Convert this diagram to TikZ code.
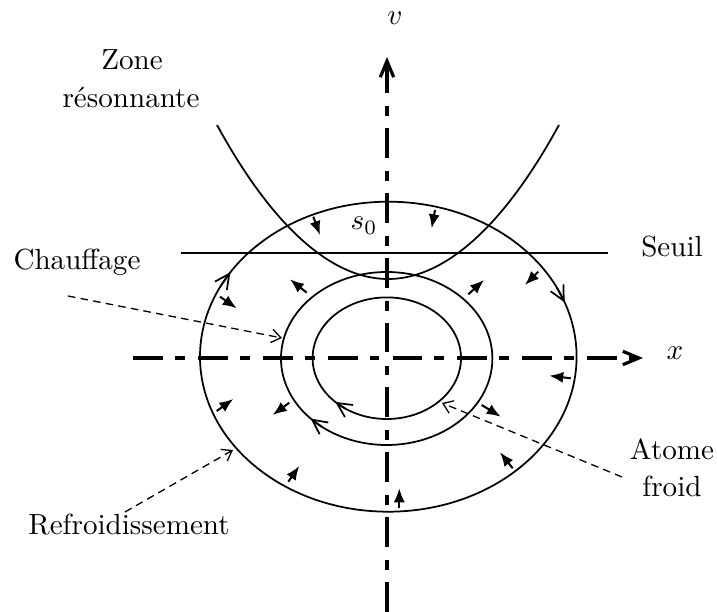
\documentclass[tikz,border=0pt]{standalone}
\usetikzlibrary{arrows.meta}
\begin{document}
\begin{tikzpicture}[x=0.3437pt,y=-0.3437pt,
  curve/.style={line width=0.6pt},
  seuilline/.style={line width=0.5pt},
  axisline/.style={line width=1.1pt,dash pattern=on 10.3pt off 4.1pt on 3.4pt off 4.5pt,
    -{Straight Barb[length=5.5pt,width=4.6pt]}},
  force/.style={line width=0.7pt,-{Latex[length=4.8pt,width=3.8pt]}},
  flow/.style={line width=0.6pt,-{Straight Barb[length=5pt,width=5pt]}},
  pointer/.style={line width=0.45pt,dash pattern=on 2.6pt off 1.8pt,
    -{Straight Barb[length=3.2pt,width=4.6pt]}},
  lbl/.style={inner sep=0pt,anchor=base}]
\useasboundingbox (0,0) rectangle (717,612);

% axes
\coordinate (xs) at (133,358);
\coordinate (xe) at (643,358);
\coordinate (vs) at (387,612);
\coordinate (ve) at (387,57);
\draw[axisline] (xs) -- (xe);
\draw[axisline] (vs) -- (ve);

% ellipses
\draw[curve] (388.3,356.7) ellipse [x radius=188.3, y radius=155];
\draw[curve] (386.7,358.5) ellipse [x radius=105.7, y radius=86.5];
\draw[curve] (386.8,358.2) ellipse [x radius=74.2, y radius=60.8];

% resonant zone and threshold
\draw[curve] (217,125) parabola bend (388,279) (559,125);
\draw[seuilline] (181,253) -- (608,253);

% flow arrows on the ellipses
\draw[flow] ({388.3+188.3*cos(153)},{356.7-155*sin(153)}) -- ({388.3+188.3*cos(147)},{356.7-155*sin(147)});
\draw[flow] ({388.3+188.3*cos(26.5)},{356.7-155*sin(26.5)}) -- ({388.3+188.3*cos(20.5)},{356.7-155*sin(20.5)});
\draw[flow] ({386.7+105.7*cos(232)},{358.5-86.5*sin(232)}) -- ({386.7+105.7*cos(224)},{358.5-86.5*sin(224)});
\draw[flow] ({386.8+74.2*cos(236)},{358.2-60.8*sin(236)}) -- ({386.8+74.2*cos(226)},{358.2-60.8*sin(226)});

% force arrows
\draw[force] (313.3,216.7) -- (320,235);
\draw[force] (435,210) -- (431.7,228.3);
\draw[force] (538.3,271.7) -- (525,285);
\draw[force] (220,296.7) -- (236.7,308.3);
\draw[force] (306.7,292.7) -- (290,279.3);
\draw[force] (468.3,294.3) -- (484,280);
\draw[force] (216.7,411) -- (233.3,399);
\draw[force] (289.3,402.7) -- (272.7,415);
\draw[force] (288.3,481.7) -- (299.3,466);
\draw[force] (570.7,378.3) -- (549.3,375.7);
\draw[force] (481.7,405) -- (500.7,416.7);
\draw[force] (512.7,468.3) -- (500,452.3);
\draw[force] (399.3,508.3) -- (399.3,488.3);

% labels
\node[lbl] (v) at (395,25) {$v$};
\node[lbl] (x) at (675,360) {$x$};
\node[lbl] (s0) at (364,230) {$s_0$};
\node[lbl] (zone) at (132,70) {Zone};
\node[lbl] (reso) at (131,108) {résonnante};
\node[lbl] (chauf) at (77,270) {Chauffage};
\node[lbl] (seuil) at (672,257) {Seuil};
\node[lbl] (atome) at (672,460) {Atome};
\node[lbl] (froid) at (672,497) {froid};
\node[lbl] (refr) at (129,535) {Refroidissement};

% pointers
\coordinate (chS) at (68,296);
\coordinate (chE) at (282,338);
\coordinate (reS) at (125,512);
\coordinate (reE) at (233,450);
\coordinate (atS) at (622,477);
\coordinate (atE) at (442,403);
\draw[pointer] (chS) -- (chE);
\draw[pointer] (reS) -- (reE);
\draw[pointer] (atS) -- (atE);
\end{tikzpicture}
\end{document}
